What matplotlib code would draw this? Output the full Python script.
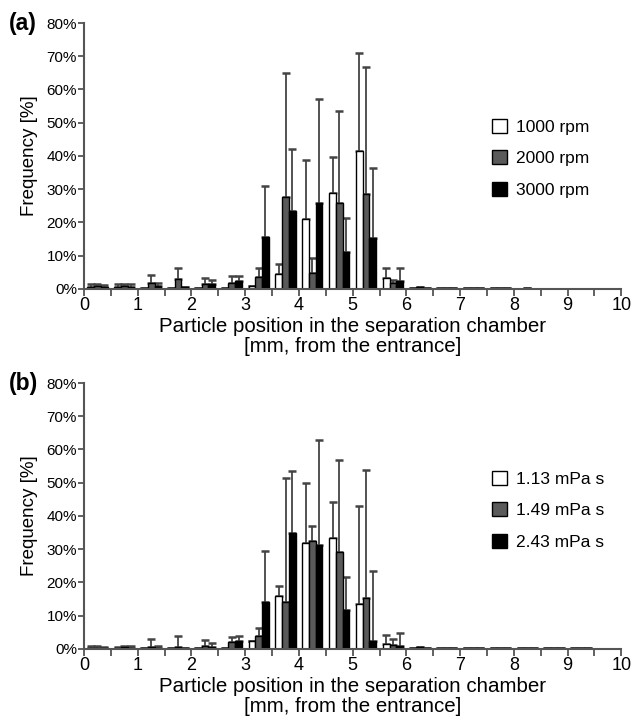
import numpy as np
import matplotlib
matplotlib.use("Agg")
import matplotlib.pyplot as plt
from matplotlib.ticker import MultipleLocator, FuncFormatter

plt.rcParams['font.family'] = ['Liberation Sans', 'DejaVu Sans']

# --- Data: 20 bins of 0.5 mm, values in % ---
bin_centers = np.arange(0.25, 10.0, 0.5)

# panel (a): rotation speed
a_labels = ["1000 rpm", "2000 rpm", "3000 rpm"]
a_1000 = [0.5, 0.4, 0.3, 0.2, 0.3, 0.3, 0.8, 4.3, 20.9, 28.9, 41.6, 3.3, 0.2, 0.2, 0.2, 0.1, 0, 0, 0, 0]
a_1000_top = [1.3, 1.3, 0.3, 0.2, 0.3, 0.3, 0.8, 7.3, 38.9, 39.8, 71.1, 6.2, 0.2, 0.2, 0.2, 0.1, 0, 0, 0, 0]
a_2000 = [0.8, 0.8, 1.6, 3.0, 1.4, 1.8, 3.5, 27.5, 4.8, 25.8, 28.4, 1.6, 0.6, 0.3, 0.2, 0.1, 0.1, 0, 0, 0]
a_2000_top = [1.3, 1.3, 4.1, 6.3, 3.1, 3.7, 6.1, 64.9, 9.3, 53.6, 66.8, 2.5, 0.6, 0.3, 0.2, 0.1, 0.1, 0, 0, 0]
a_3000 = [0.5, 0.5, 0.8, 0.5, 1.3, 2.3, 15.6, 23.3, 25.9, 11.1, 15.4, 2.4, 0.2, 0.3, 0.2, 0.1, 0, 0, 0, 0]
a_3000_top = [1.0, 1.3, 1.8, 0.5, 2.6, 3.7, 31.0, 42.0, 57.2, 21.2, 36.2, 6.2, 0.2, 0.3, 0.2, 0.1, 0, 0, 0, 0]

# panel (b): viscosity
b_labels = ["1.13 mPa s", "1.49 mPa s", "2.43 mPa s"]
b_113 = [0.3, 0.2, 0.2, 0.1, 0.2, 0.3, 2.4, 15.9, 31.9, 33.2, 13.4, 1.4, 0.2, 0.2, 0.2, 0.2, 0.2, 0.2, 0.2, 0]
b_113_top = [0.8, 0.5, 0.3, 0.1, 0.3, 0.3, 2.4, 18.8, 49.9, 44.1, 42.9, 4.2, 0.2, 0.2, 0.2, 0.2, 0.2, 0.2, 0.2, 0]
b_149 = [0.3, 0.5, 0.5, 0.5, 0.8, 1.9, 3.8, 14.2, 32.4, 29.1, 15.3, 1.0, 0.6, 0.2, 0.2, 0.2, 0.2, 0.2, 0.1, 0]
b_149_top = [0.8, 0.8, 2.8, 3.8, 2.6, 3.5, 6.3, 51.5, 36.9, 56.9, 53.7, 3.0, 0.6, 0.2, 0.2, 0.2, 0.2, 0.2, 0.1, 0]
b_243 = [0.2, 0.3, 0.2, 0.2, 0.5, 2.3, 14.0, 34.8, 31.2, 11.6, 2.4, 0.8, 0.2, 0.3, 0.2, 0.1, 0.1, 0.1, 0.1, 0]
b_243_top = [0.5, 0.8, 0.8, 0.2, 1.8, 3.7, 29.3, 53.5, 62.7, 21.7, 23.4, 4.6, 0.2, 0.3, 0.2, 0.1, 0.1, 0.1, 0.1, 0]

COLORS = ["white", "#5a5a5a", "black"]
AXIS_COL = "#555555"
W = 0.125


def draw_panel(ax, series, tops, labels, tag, leg_anchor):
    for i, (vals, top, lab) in enumerate(zip(series, tops, labels)):
        x = bin_centers + (i - 1) * W
        vals = np.array(vals)
        err = np.clip(np.array(top) - vals, 0, None)
        ax.errorbar(x, vals, yerr=[np.zeros_like(err), err], fmt='none',
                    ecolor="#444444", elinewidth=1.3, capsize=3, capthick=1.8, zorder=1)
        ax.bar(x, vals, width=W, color=COLORS[i], edgecolor="black",
               linewidth=1.0, label=lab, zorder=2)

    ax.set_xlim(0, 10)
    ax.set_ylim(0, 80)
    for s in ["top", "right"]:
        ax.spines[s].set_visible(False)
    for s in ["left", "bottom"]:
        ax.spines[s].set_color(AXIS_COL)
        ax.spines[s].set_linewidth(1.5)
    ax.xaxis.set_major_locator(MultipleLocator(1))
    ax.xaxis.set_minor_locator(MultipleLocator(0.5))
    ax.yaxis.set_major_locator(MultipleLocator(10))
    ax.yaxis.set_major_formatter(FuncFormatter(lambda v, p: f"{int(v)}%"))
    ax.tick_params(axis='x', which='both', direction='out', length=5, width=1.3,
                   color=AXIS_COL, labelsize=13, pad=1)
    ax.tick_params(axis='y', direction='out', length=4, width=1.3,
                   color=AXIS_COL, labelsize=11, pad=1)
    ax.set_ylabel("Frequency [%]", fontsize=13.5, labelpad=6)
    ax.set_xlabel("Particle position in the separation chamber\n[mm, from the entrance]",
                  fontsize=14.8, labelpad=2, linespacing=1.05)
    ax.text(-0.14, 1.0, tag, transform=ax.transAxes, fontsize=16.5, fontweight='bold',
            ha='left', va='center')
    ax.legend(loc='upper left', bbox_to_anchor=leg_anchor, frameon=False, fontsize=12.5,
              handlelength=0.85, handleheight=0.85, handletextpad=0.5,
              labelspacing=0.9, borderpad=0, borderaxespad=0)


fig = plt.figure(figsize=(6.32, 7.2), dpi=100)
ax_a = fig.add_axes([0.133, 0.599, 0.85, 0.369])
ax_b = fig.add_axes([0.133, 0.099, 0.85, 0.369])

draw_panel(ax_a, [a_1000, a_2000, a_3000], [a_1000_top, a_2000_top, a_3000_top],
           a_labels, "(a)", (0.76, 0.64))
draw_panel(ax_b, [b_113, b_149, b_243], [b_113_top, b_149_top, b_243_top],
           b_labels, "(b)", (0.76, 0.67))

fig.savefig("out.png", dpi=100)
